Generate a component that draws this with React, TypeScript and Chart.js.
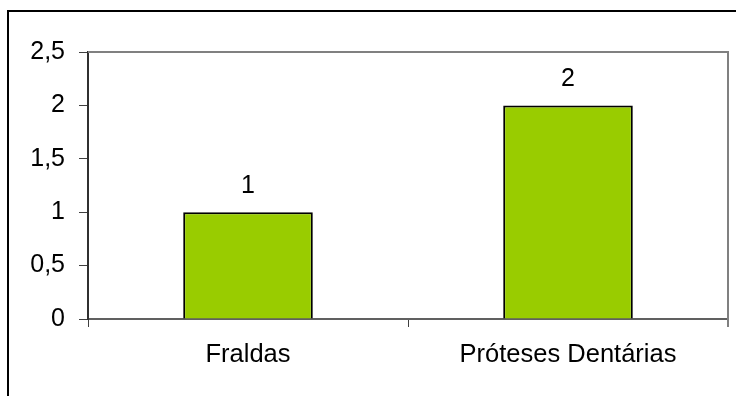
import React, { useEffect, useRef } from "react";
import { Chart, registerables } from "chart.js";

Chart.register(...registerables);

const categories = ["Fraldas", "Próteses Dentárias"];
const values = [1, 2];
const yTicks = [0, 0.5, 1, 1.5, 2, 2.5];

const FONT = "'Liberation Sans', Arial, sans-serif";

const framePlugin = {
  id: "frame",
  beforeDraw(chart: any) {
    const ctx = chart.ctx;
    ctx.save();
    ctx.fillStyle = "#ffffff";
    ctx.fillRect(0, 0, chart.width, chart.height);
    ctx.strokeStyle = "#000000";
    ctx.lineWidth = 2;
    ctx.beginPath();
    ctx.moveTo(8, chart.height + 2);
    ctx.lineTo(8, 11);
    ctx.lineTo(chart.width + 2, 11);
    ctx.stroke();
    ctx.restore();
  },
  afterDraw(chart: any) {
    const { ctx, chartArea } = chart;
    ctx.save();
    ctx.strokeStyle = "#808080";
    ctx.lineWidth = 2;
    ctx.beginPath();
    ctx.moveTo(chartArea.left, chartArea.top);
    ctx.lineTo(chartArea.right, chartArea.top);
    ctx.lineTo(chartArea.right, chartArea.bottom + 8);
    ctx.stroke();
    ctx.restore();
  },
};

const labelPlugin = {
  id: "valueLabels",
  afterDatasetsDraw(chart: any) {
    const ctx = chart.ctx;
    const meta = chart.getDatasetMeta(0);
    ctx.save();
    ctx.fillStyle = "#000000";
    ctx.font = `25px ${FONT}`;
    ctx.textAlign = "center";
    ctx.textBaseline = "alphabetic";
    meta.data.forEach((bar: any, i: number) => {
      ctx.fillText(String(values[i]), bar.x, bar.y - 19);
    });
    ctx.restore();
  },
};

export default function App() {
  const ref = useRef<HTMLCanvasElement>(null);
  useEffect(() => {
    if (!ref.current) return;
    const chart = new Chart(ref.current, {
      type: "bar",
      data: {
        labels: categories,
        datasets: [
          {
            data: values,
            backgroundColor: "#99CC00",
            borderColor: "#000000",
            borderWidth: 2,
            barPercentage: 0.405,
            categoryPercentage: 1,
          },
        ],
      },
      options: {
        animation: false,
        responsive: false,
        devicePixelRatio: 1,
        layout: { padding: { left: 0, right: 8, top: 52, bottom: 0 } },
        plugins: { legend: { display: false }, tooltip: { enabled: false } },
        scales: {
          x: {
            offset: true,
            afterFit: (s: any) => {
              s.height = 77;
            },
            grid: {
              offset: true,
              drawOnChartArea: false,
              tickLength: 8,
              color: "#404040",
              lineWidth: 1,
            },
            border: { color: "#606060", width: 2 },
            ticks: {
              color: "#000000",
              font: { family: FONT, size: 25.5 },
              padding: 13,
              maxRotation: 0,
            },
          },
          y: {
            min: 0,
            max: 2.5,
            afterFit: (s: any) => {
              s.width = 88;
            },
            afterBuildTicks: (s: any) => {
              s.ticks = yTicks.map((v) => ({ value: v }));
            },
            grid: {
              drawOnChartArea: false,
              tickLength: 9,
              color: "#404040",
              lineWidth: 1,
            },
            border: { color: "#303030", width: 2 },
            ticks: {
              color: "#000000",
              font: { family: FONT, size: 25 },
              padding: 14,
              callback: (v: any) => String(v).replace(".", ","),
            },
          },
        },
      },
      plugins: [framePlugin, labelPlugin],
    });
    return () => chart.destroy();
  }, []);
  return (
    <div style={{ position: "absolute", left: 0, top: 0, width: 736, height: 396 }}>
      <canvas ref={ref} width={736} height={396} />
    </div>
  );
}
